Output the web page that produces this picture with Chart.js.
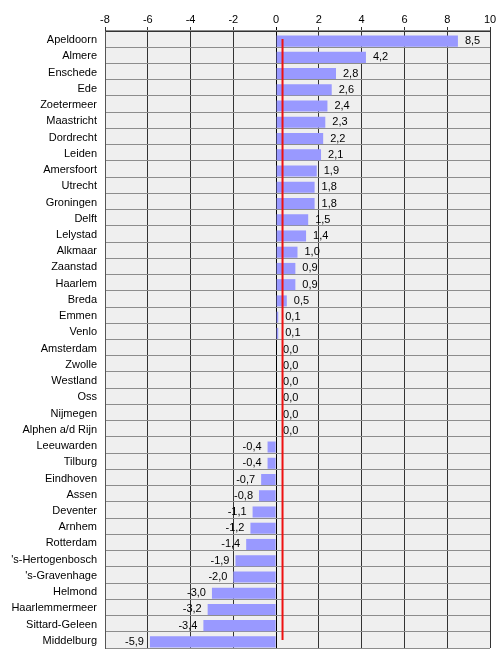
<!DOCTYPE html>
<html>
<head>
<meta charset="utf-8">
<script src="https://cdn.jsdelivr.net/npm/chart.js@4"></script>
<style>
  html, body { margin: 0; padding: 0; background: #fff; }
  #wrap { width: 500px; height: 653px; }
</style>
</head>
<body>
<div id="wrap"><canvas id="chart"></canvas></div>
<script>
// gemeenten
const cities = ['Apeldoorn', 'Almere', 'Enschede', 'Ede', 'Zoetermeer', 'Maastricht', 'Dordrecht', 'Leiden',
  'Amersfoort', 'Utrecht', 'Groningen', 'Delft', 'Lelystad', 'Alkmaar', 'Zaanstad', 'Haarlem', 'Breda',
  'Emmen', 'Venlo', 'Amsterdam', 'Zwolle', 'Westland', 'Oss', 'Nijmegen', 'Alphen a/d Rijn',
  'Leeuwarden', 'Tilburg', 'Eindhoven', 'Assen', 'Deventer', 'Arnhem', 'Rotterdam', "'s-Hertogenbosch",
  "'s-Gravenhage", 'Helmond', 'Haarlemmermeer', 'Sittard-Geleen', 'Middelburg'];

// waarden per gemeente
const values = [8.5, 4.2, 2.8, 2.6, 2.4, 2.3, 2.2, 2.1, 1.9, 1.8, 1.8, 1.5, 1.4, 1.0, 0.9, 0.9, 0.5,
  0.1, 0.1, 0.0, 0.0, 0.0, 0.0, 0.0, 0.0,
  -0.4, -0.4, -0.7, -0.8, -1.1, -1.2, -1.4, -1.9, -2.0, -3.0, -3.2, -3.4, -5.9];

// rode referentielijn
const refValue = 0.3;

// as
const axisMin = -8;
const axisMax = 10;
const axisStep = 2;

function fmt(v) {
  return v.toFixed(1).replace('.', ',');
}

// achtergrond van het plotgebied
const plotBg = {
  id: 'plotBg',
  beforeDraw(chart) {
    const a = chart.chartArea;
    const ctx = chart.ctx;
    ctx.save();
    ctx.fillStyle = '#efefef';
    ctx.fillRect(a.left, a.top, a.right - a.left, a.bottom - a.top);
    ctx.restore();
  }
};

// balken zakken iets naar de onderkant van hun rij, zoals in Excel
const barShift = {
  id: 'barShift',
  afterDatasetsUpdate(chart) {
    chart.getDatasetMeta(0).data.forEach(bar => { bar.y += 2; });
  }
};

// labels naast de balken
const barLabels = {
  id: 'barLabels',
  afterDatasetDraw(chart, args) {
    if (args.index !== 0) return;
    const ctx = chart.ctx;
    const meta = chart.getDatasetMeta(0);
    const x0 = chart.scales.x.getPixelForValue(0);
    ctx.save();
    ctx.font = '11px Arial, "Liberation Sans", sans-serif';
    ctx.fillStyle = '#000';
    ctx.textBaseline = 'middle';
    meta.data.forEach((bar, i) => {
      const v = values[i];
      if (v < 0) {
        ctx.textAlign = 'right';
        ctx.fillText(fmt(v), bar.x - 6, bar.y);
      } else {
        ctx.textAlign = 'left';
        ctx.fillText(fmt(v), Math.max(bar.x, x0) + 7, bar.y);
      }
    });
    ctx.restore();
  }
};

new Chart(document.getElementById('chart'), {
  type: 'bar',
  data: {
    labels: cities,
    datasets: [{
      data: values,
      backgroundColor: '#9999ff',
      borderWidth: 0,
      barPercentage: 0.68,
      categoryPercentage: 1,
      order: 2
    }, {
      type: 'line',
      indexAxis: 'y',
      data: [{ x: refValue, y: cities[0] }, { x: refValue, y: cities[cities.length - 1] }],
      borderColor: '#ee1111',
      borderWidth: 2,
      pointRadius: 0,
      fill: false,
      order: 1
    }]
  },
  options: {
    indexAxis: 'y',
    responsive: true,
    maintainAspectRatio: false,
    animation: false,
    layout: { padding: { left: 0, right: 10, top: 0, bottom: 5 } },
    plugins: {
      legend: { display: false },
      tooltip: { enabled: false }
    },
    scales: {
      x: {
        position: 'top',
        min: axisMin,
        max: axisMax,
        ticks: {
          stepSize: axisStep,
          color: '#000',
          padding: 0,
          font: { family: 'Arial, "Liberation Sans", sans-serif', size: 11 }
        },
        grid: {
          color: ctx => ctx.tick && ctx.tick.value === 0 ? '#000' : '#333',
          lineWidth: 1,
          tickLength: 4
        },
        border: { color: '#333' },
        afterFit(scale) { scale.height = 31; }
      },
      y: {
        ticks: {
          color: '#000',
          padding: 8,
          labelOffset: 1,
          autoSkip: false,
          font: { family: 'Arial, "Liberation Sans", sans-serif', size: 11 }
        },
        grid: {
          color: '#8c8c8c',
          lineWidth: 1,
          drawTicks: false
        },
        border: { color: '#555' },
        afterFit(scale) {
          scale.width = 105;
          scale.paddingTop = 0;
          scale.paddingBottom = 0;
        }
      }
    }
  },
  plugins: [plotBg, barShift, barLabels]
});
</script>
</body>
</html>
